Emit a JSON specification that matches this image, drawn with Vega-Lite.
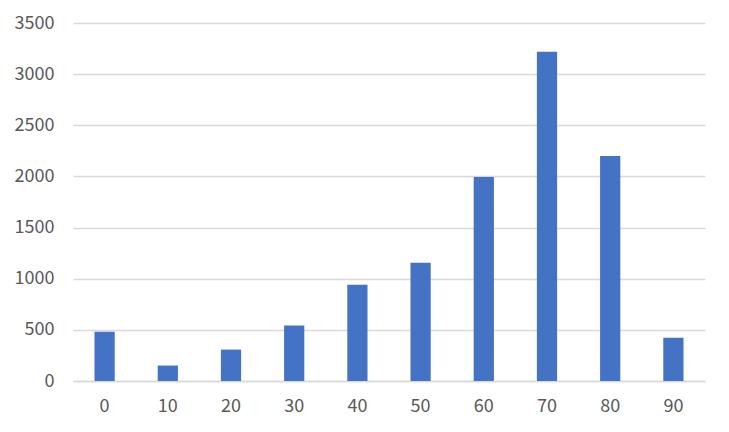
{
  "$schema": "https://vega.github.io/schema/vega-lite/v6.json",
  "autosize": {"type": "none"},
  "padding": {"left": 73, "top": 23, "right": 24, "bottom": 51},
  "width": 632,
  "height": 358,
  "background": "white",
  "config": {
    "view": {"stroke": null},
    "font": "Noto Sans CJK SC"
  },
  "data": {
    "values": [
      {"category": "0", "value": 482},
      {"category": "10", "value": 151},
      {"category": "20", "value": 307},
      {"category": "30", "value": 542},
      {"category": "40", "value": 940},
      {"category": "50", "value": 1156},
      {"category": "60", "value": 1995},
      {"category": "70", "value": 3220},
      {"category": "80", "value": 2200},
      {"category": "90", "value": 424}
    ]
  },
  "mark": {"type": "bar", "color": "#4472C4"},
  "encoding": {
    "x": {
      "field": "category",
      "type": "ordinal",
      "sort": null,
      "scale": {"paddingInner": 0.68, "paddingOuter": 0.34},
      "axis": {
        "title": null,
        "labelAngle": 0,
        "ticks": false,
        "domainColor": "#d9d9d9",
        "domainWidth": 1.5,
        "labelFontSize": 18,
        "labelColor": "#595959",
        "labelPadding": 16
      }
    },
    "y": {
      "field": "value",
      "type": "quantitative",
      "scale": {"domain": [0, 3500], "nice": false},
      "axis": {
        "title": null,
        "values": [0, 500, 1000, 1500, 2000, 2500, 3000, 3500],
        "format": "d",
        "ticks": false,
        "domain": false,
        "gridColor": "#d9d9d9",
        "gridWidth": 1.5,
        "labelFontSize": 18,
        "labelColor": "#595959",
        "labelPadding": 19
      }
    }
  }
}
